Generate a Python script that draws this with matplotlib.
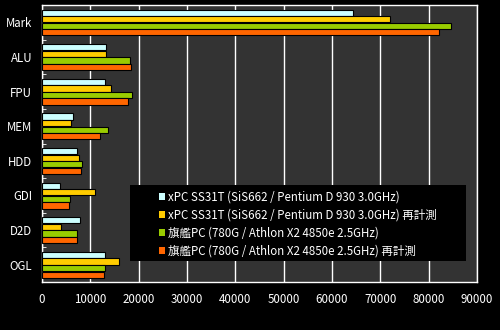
import matplotlib
matplotlib.use("Agg")
import matplotlib.pyplot as plt
from matplotlib.patches import Rectangle
import numpy as np

plt.rcParams['font.family'] = ['Noto Sans CJK JP', 'DejaVu Sans']

categories = ["Mark", "ALU", "FPU", "MEM", "HDD", "GDI", "D2D", "OGL"]
series_names = [
    "xPC SS31T (SiS662 / Pentium D 930 3.0GHz)",
    "xPC SS31T (SiS662 / Pentium D 930 3.0GHz) 再計測",
    "旗艦PC (780G / Athlon X2 4850e 2.5GHz)",
    "旗艦PC (780G / Athlon X2 4850e 2.5GHz) 再計測",
]
xpc = [64300, 13200, 13000, 6400, 7300, 3700, 7850, 13000]
xpc_re = [72000, 13200, 14250, 5950, 7600, 11000, 3900, 15900]
flag = [84600, 18200, 18600, 13600, 8250, 5750, 7200, 13000]
flag_re = [82100, 18450, 17750, 11950, 8050, 5600, 7200, 12800]
colors = ["#ccffff", "#ffcc00", "#99cc00", "#ff6600"]

fig = plt.figure(figsize=(5, 3.3), dpi=100, facecolor="black")
ax = fig.add_axes([42 / 500, 1 - 282 / 330, 435 / 500, 277 / 330])
ax.set_facecolor("#333333")

y = np.arange(len(categories))
bar_h = 0.18
for i, (vals, c, name) in enumerate(zip([xpc, xpc_re, flag, flag_re], colors, series_names)):
    ax.barh(y - 0.28 + i * 0.19, vals, height=bar_h, color=c,
            edgecolor="black", linewidth=0.8, label=name, zorder=3)

ax.set_xlim(0, 90000)
ax.set_ylim(len(categories) - 0.5, -0.5)
ax.set_xticks(np.arange(0, 90001, 10000))
ax.set_yticks(y)
ax.set_yticklabels(categories)
ax.set_yticks(np.arange(0.5, len(categories) - 0.5, 1), minor=True)
ax.tick_params(axis="y", which="major", length=0, colors="white", labelsize=8.3, pad=7)
ax.tick_params(axis="y", which="minor", length=3, direction="in", color="white")
ax.tick_params(axis="x", length=0, colors="white", labelsize=8.3, pad=8)
ax.grid(axis="x", color="white", linewidth=1, zorder=1)
for s in ax.spines.values():
    s.set_color("white")
    s.set_linewidth(1)

# black legend panel, wider than the legend itself
ax.add_patch(Rectangle((0.202, 0.076), 0.773, 0.274, transform=ax.transAxes,
                       facecolor="black", edgecolor="none", zorder=4))
leg = ax.legend(loc="upper left", bbox_to_anchor=(0.268, 0.331), fontsize=8.3,
                frameon=False, labelcolor="white", handlelength=0.55,
                handleheight=0.55, handletextpad=0.3, borderpad=0,
                labelspacing=0.45, borderaxespad=0)
leg.set_zorder(5)
for h in leg.legend_handles:
    h.set_linewidth(0)

fig.savefig("out.png", dpi=100, facecolor="black")
